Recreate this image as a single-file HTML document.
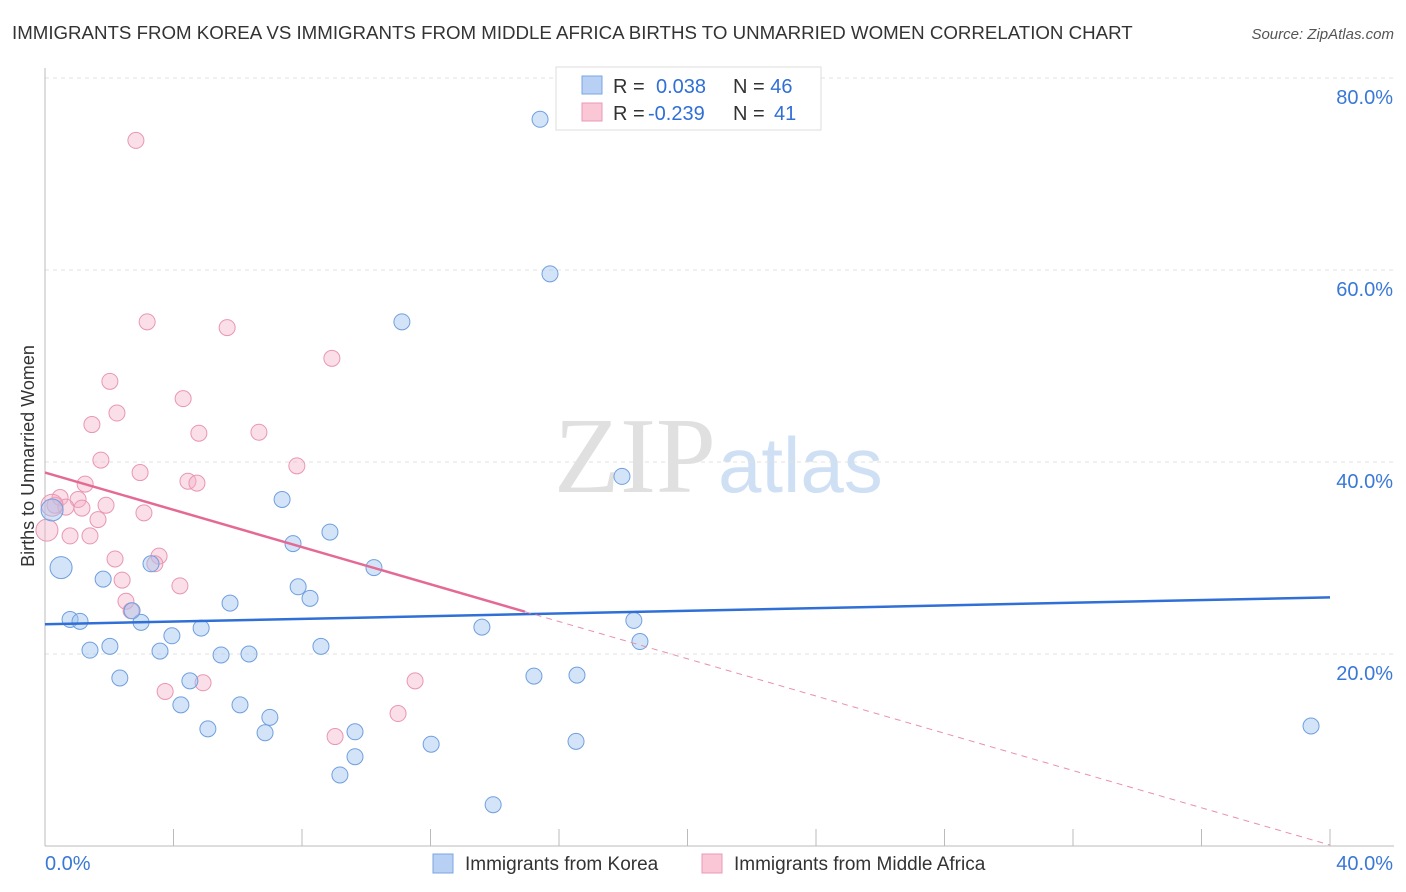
<!DOCTYPE html>
<html><head><meta charset="utf-8"><style>
body{margin:0;background:#fff;font-family:"Liberation Sans",sans-serif}
svg{display:block}
</style></head><body>
<svg width="1406" height="892" id="chart">
<text x="12" y="39" font-size="18.7" fill="#333">IMMIGRANTS FROM KOREA VS IMMIGRANTS FROM MIDDLE AFRICA BIRTHS TO UNMARRIED WOMEN CORRELATION CHART</text>
<text x="1394" y="39" font-size="15" fill="#555" font-style="italic" text-anchor="end">Source: ZipAtlas.com</text>
<text x="716" y="492" font-size="108" fill="#e0e0e0" font-family="Liberation Serif,serif" text-anchor="end">ZIP</text>
<text x="718" y="492" font-size="78" fill="#cfe0f4">atlas</text>
<text transform="translate(34,456) rotate(-90)" font-size="18" fill="#333" text-anchor="middle">Births to Unmarried Women</text>
<g id="grid"></g><g id="pts"></g><g id="lines"></g>
<g>
<rect x="556" y="67" width="265" height="63" fill="#fff" stroke="#ddd"/>
<rect x="582" y="76" width="20" height="18" fill="#b7d0f3" stroke="#7aa6e0"/>
<rect x="582" y="103" width="20" height="18" fill="#f9c7d6" stroke="#ec9ab5"/>
<text x="613" y="93" font-size="20" fill="#333">R = <tspan fill="#2f6fd6" x="656">0.038</tspan><tspan x="733" fill="#333">N = </tspan><tspan fill="#2f6fd6">46</tspan></text>
<text x="613" y="120" font-size="20" fill="#333">R = <tspan fill="#2f6fd6" x="648">-0.239</tspan><tspan x="733" fill="#333">N = </tspan><tspan fill="#2f6fd6" x="774">41</tspan></text>
</g>
<g>
<rect x="433" y="854" width="20" height="19" fill="#b7d0f3" stroke="#7aa6e0"/>
<text x="465" y="870" font-size="19" fill="#333">Immigrants from Korea</text>
<rect x="702" y="854" width="20" height="19" fill="#f9c7d6" stroke="#ec9ab5"/>
<text x="734" y="870" font-size="19" fill="#333">Immigrants from Middle Africa</text>
</g>
</svg>
<script>
const yTicks=[20,40,60,80];
const yTickLabels=["20.0%","40.0%","60.0%","80.0%"];
const xTickLabels=["0.0%","40.0%"];
const koreaX=[15.41,15.72,11.11,17.96,7.38,8.87,7.72,10.24,3.30,0.50,1.81,7.88,8.25,5.76,0.78,1.09,2.99,3.95,4.86,18.33,13.60,2.02,1.40,3.58,5.48,6.35,8.59,18.52,2.33,4.51,15.22,16.56,4.23,6.07,7.00,5.07,6.85,9.65,12.02,16.53,9.65,9.18,13.95,39.41,0.22,2.71];
const koreaY=[75.7,59.6,54.6,38.5,36.1,32.7,31.5,29.0,29.4,29.0,27.8,27.0,25.8,25.3,23.6,23.4,23.3,21.9,22.7,23.5,22.8,20.8,20.4,20.3,19.9,20.0,20.8,21.3,17.5,17.2,17.7,17.8,14.7,14.7,13.4,12.2,11.8,11.9,10.6,10.9,9.3,7.4,4.3,12.5,35.0,24.5];
const koreaBig=[9,44];
const africaX=[2.83,3.18,5.67,8.93,2.02,4.30,2.24,1.46,4.79,6.66,1.74,7.84,2.96,4.45,4.73,1.25,0.47,1.03,0.65,0.31,1.15,1.90,3.08,1.65,0.06,0.78,1.40,3.55,2.18,3.42,2.40,4.20,2.52,2.68,3.74,4.92,11.52,10.99,9.03,0.22];
const africaY=[73.5,54.6,54.0,50.8,48.4,46.6,45.1,43.9,43.0,43.1,40.2,39.6,38.9,38.0,37.8,37.7,36.3,36.1,35.3,35.5,35.2,35.5,34.7,34.0,32.9,32.3,32.3,30.2,29.9,29.4,27.7,27.1,25.5,24.5,16.1,17.0,17.2,13.8,11.4,35.5];
const africaBig=[24,39];
const koreaLine=[23.1,25.9];
const africaLine=[38.9,-0.97];
const africaSolidEnd=14.94;

const NS="http://www.w3.org/2000/svg";
const X=v=>45+v*32.125, Y=v=>846-v*9.6;
function mk(p,t,a){const e=document.createElementNS(NS,t);for(const k in a)e.setAttribute(k,a[k]);p.appendChild(e);return e;}
const grid=document.getElementById('grid');
yTicks.forEach((t,i)=>{
 const l=mk(grid,'line',{x1:45,x2:1394,y1:Y(t),y2:Y(t),stroke:'#e2e2e2','stroke-dasharray':'4,4'});
 
 
 const tx=mk(grid,'text',{x:1393,y:Y(t)+26,'font-size':20,fill:'#3a78d6','text-anchor':'end'});tx.textContent=yTickLabels[i];
 
 
});
mk(grid,'line',{x1:45,x2:45,y1:68,y2:846,stroke:'#bbb'});
mk(grid,'line',{x1:45,x2:1394,y1:846,y2:846,stroke:'#bbb'});
for(let i=0;i<=10;i++){const xx=X(i*4);const t=mk(grid,'line',{x1:xx,x2:xx,y1:829,y2:846,stroke:'#bbb'});
 
 }
const xl0=mk(grid,'text',{x:45,y:870,'font-size':20,fill:'#3a78d6'});xl0.textContent=xTickLabels[0];


const xl1=mk(grid,'text',{x:1393,y:870,'font-size':20,fill:'#3a78d6','text-anchor':'end'});xl1.textContent=xTickLabels[1];


const pts=document.getElementById('pts');
function draw(xs,ys,big,fill,stroke,name){xs.forEach((v,i)=>{
 const c=mk(pts,'circle',{cx:X(v),cy:Y(ys[i]),r:big.includes(i)?11:8,fill:fill,stroke:stroke,'stroke-width':1});
 
 });}
draw(africaX,africaY,africaBig,'rgba(245,175,198,0.4)','#e996b2','middle-africa-point');
draw(koreaX,koreaY,koreaBig,'rgba(160,196,240,0.45)','#6f9fdf','korea-point');
const lines=document.getElementById('lines');
const kl=mk(lines,'line',{x1:X(0),y1:Y(koreaLine[0]),x2:X(40),y2:Y(koreaLine[1]),stroke:'#2f6fd6','stroke-width':2.5});


const af=x=>africaLine[0]+africaLine[1]*x;
const al=mk(lines,'line',{x1:X(0),y1:Y(af(0)),x2:X(africaSolidEnd),y2:Y(af(africaSolidEnd)),stroke:'#e46a95','stroke-width':2.5});


const ad=mk(lines,'line',{x1:X(africaSolidEnd),y1:Y(af(africaSolidEnd)),x2:X(40),y2:Y(af(40)),stroke:'#e990ae','stroke-width':1,'stroke-dasharray':'6,5'});


</script>
</body></html>
